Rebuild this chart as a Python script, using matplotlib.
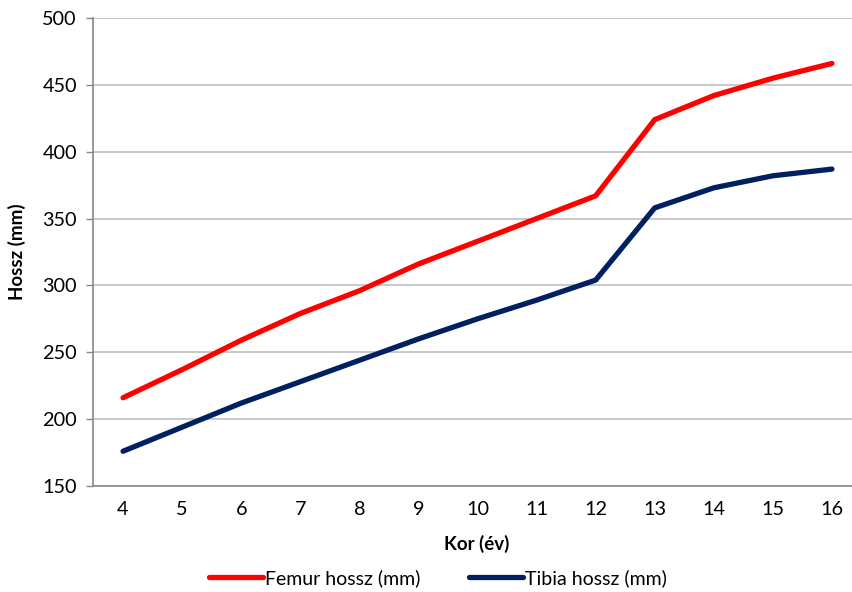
import matplotlib
matplotlib.use("Agg")
import matplotlib.pyplot as plt

ages = [4, 5, 6, 7, 8, 9, 10, 11, 12, 13, 14, 15, 16]
femur = [216, 237, 259, 279, 296, 316, 333, 350, 367, 424, 442, 455, 466]
tibia = [176, 194, 212, 228, 244, 260, 275, 289, 304, 358, 373, 382, 387]
yticks = [150, 200, 250, 300, 350, 400, 450, 500]

plt.rcParams['font.family'] = ['Lato', 'DejaVu Sans']

fig = plt.figure(figsize=(8.53, 5.92), dpi=100)
ax = fig.add_axes([93.5/853, 106/592, 768/853, 468/592])

l1, = ax.plot(ages, femur, color='#FF0000', lw=3.8, solid_capstyle='round',
              solid_joinstyle='round', label='Femur hossz (mm)', zorder=3)
l2, = ax.plot(ages, tibia, color='#002060', lw=3.8, solid_capstyle='round',
              solid_joinstyle='round', label='Tibia hossz (mm)', zorder=3)

ax.set_xlim(3.5, 16.5)
ax.set_ylim(150, 500)
ax.set_yticks(yticks)
ax.set_xticks(ages)
ax.set_xticklabels([str(a) for a in ages])
ax.tick_params(axis='x', length=0, pad=11, labelsize=14.3)
ax.tick_params(axis='y', length=5, width=1, color='#888888', pad=7, labelsize=14.3)
ax.yaxis.grid(True, color='#C0C0C0', lw=1.2)
ax.set_axisbelow(True)
for s in ['top', 'right']:
    ax.spines[s].set_visible(False)
for s in ['left', 'bottom']:
    ax.spines[s].set_color('#888888')
    ax.spines[s].set_linewidth(1.2)

fig.text(17/853, 1 - 252/592, 'Hossz (mm)', rotation=90, ha='center', va='center',
         fontsize=13.5, fontweight='bold')
fig.text(477/853, 1 - 544/592, 'Kor (év)', ha='center', va='center',
         fontsize=13.5, fontweight='bold')

fig.legend(handles=[l1, l2], loc='center', bbox_to_anchor=(438/853, 1 - 578/592),
           ncol=2, frameon=False, fontsize=14, handlelength=2.8, handletextpad=0.1,
           columnspacing=2.5)

fig.savefig('out.png', dpi=100)
